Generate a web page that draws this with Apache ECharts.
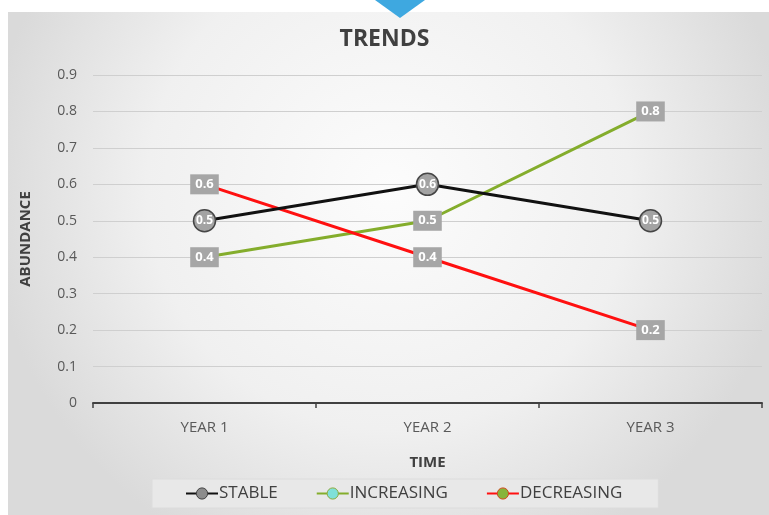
<!DOCTYPE html>
<html><head><meta charset="utf-8">
<script src="https://cdn.jsdelivr.net/npm/echarts@6/dist/echarts.min.js"></script>
<style>html,body{margin:0;padding:0;background:#fff}#c{width:769px;height:515px}</style>
</head><body><div id="c"></div>
<script>
const categories = ['YEAR 1', 'YEAR 2', 'YEAR 3'];
const stable = [0.5, 0.6, 0.5];
const increasing = [0.4, 0.5, 0.8];
const decreasing = [0.6, 0.4, 0.2];
const seriesNames = ['STABLE', 'INCREASING', 'DECREASING'];

const chart = echarts.init(document.getElementById('c'));
const font = '"Open Sans", "Noto Sans", sans-serif';
const circleLabel = {
  show: true, position: 'inside', color: '#fff', fontSize: 12, fontWeight: 'bold', fontFamily: font
};
const boxLabel = {
  show: true, position: 'inside', color: '#fff', fontSize: 13, fontWeight: 'bold', fontFamily: font,
  backgroundColor: '#a6a6a6', padding: [4, 5, 3, 5]
};
chart.setOption({
  animation: false,
  textStyle: { fontFamily: font },
  graphic: [
    { type: 'rect', left: 8, top: 12, z: -10, shape: { width: 761, height: 503 },
      style: { fill: new echarts.graphic.RadialGradient(0.5, 0.35, 0.8, [
        { offset: 0, color: '#fcfcfc' }, { offset: 0.6, color: '#f0f0f0' }, { offset: 1, color: '#dadada' }]) } },
    { type: 'polygon', z: 10, shape: { points: [[375, 0], [425, 0], [400, 18]] }, style: { fill: '#3ea8e0' } }
  ],
  title: { text: 'TRENDS', left: 'center', top: 23, textStyle: { fontSize: 23, fontWeight: 'bold', color: '#404040', fontFamily: font } },
  grid: { left: 93, right: 7, top: 75, bottom: 112 },
  legend: {
    bottom: 7, left: 152, padding: [6, 36, 6, 33], backgroundColor: '#e8e8e8',
    borderColor: '#dcdcdc', borderWidth: 1, itemGap: 38, itemWidth: 32, itemHeight: 14,
    textStyle: { fontSize: 17, color: '#404040', fontFamily: font, padding: [0, 0, 0, -4] },
    data: [
      { name: 'STABLE', itemStyle: { color: '#8c8c8c', borderColor: '#404040', borderWidth: 1 } },
      { name: 'INCREASING', itemStyle: { color: '#7fe0d8', borderColor: '#8aaa3a', borderWidth: 1 } },
      { name: 'DECREASING', itemStyle: { color: '#86b43a', borderColor: '#d04a1a', borderWidth: 1 } }
    ]
  },
  xAxis: {
    type: 'category', data: categories, boundaryGap: true,
    name: 'TIME', nameLocation: 'middle', nameGap: 52,
    nameTextStyle: { fontSize: 15, fontWeight: 'bold', color: '#404040' },
    axisLine: { lineStyle: { color: '#404040', width: 2 } },
    axisTick: { show: true, inside: false, length: 5, lineStyle: { color: '#404040', width: 1.5 } },
    axisLabel: { fontSize: 15, color: '#595959', margin: 17 }
  },
  yAxis: {
    type: 'value', min: 0, max: 0.9, interval: 0.1,
    name: 'ABUNDANCE', nameLocation: 'middle', nameGap: 60, nameRotate: 90,
    nameTextStyle: { fontSize: 15, fontWeight: 'bold', color: '#404040' },
    axisLine: { show: false }, axisTick: { show: false },
    axisLabel: { fontSize: 14, color: '#595959', margin: 16 },
    splitLine: { lineStyle: { color: '#cfcfcf', width: 1.2 } }
  },
  series: [
    { name: seriesNames[0], type: 'line', data: stable, z: 3,
      lineStyle: { color: '#111111', width: 3 },
      symbol: 'circle', symbolSize: 22,
      itemStyle: { color: '#a3a3a3', borderColor: '#454545', borderWidth: 1.5 },
      label: circleLabel },
    { name: seriesNames[1], type: 'line', data: increasing, z: 2,
      lineStyle: { color: '#84ad2c', width: 3 },
      symbol: 'circle', symbolSize: 8,
      itemStyle: { color: '#a6a6a6', borderWidth: 0 },
      label: boxLabel },
    { name: seriesNames[2], type: 'line', data: decreasing, z: 2,
      lineStyle: { color: '#ff1010', width: 3 },
      symbol: 'circle', symbolSize: 8,
      itemStyle: { color: '#a6a6a6', borderWidth: 0 },
      label: boxLabel }
  ]
});
</script></body></html>
